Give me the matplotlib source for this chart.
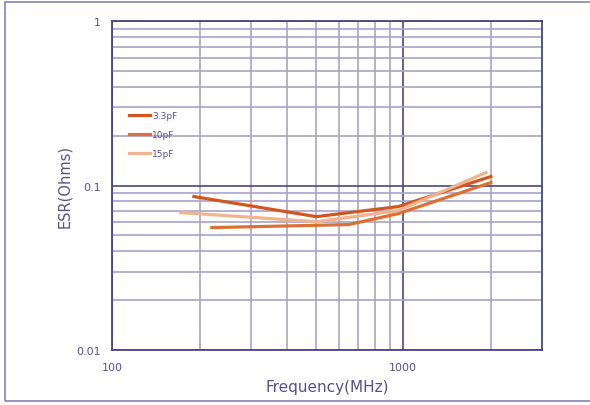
import matplotlib
matplotlib.use('Agg')
import matplotlib.pyplot as plt
from matplotlib.patches import Rectangle
from matplotlib.ticker import FixedLocator, NullFormatter

# data
labels = ['3.3pF', '10pF', '15pF']
freq_33 = [191, 503, 961, 2000]
esr_33 = [0.0857, 0.0647, 0.0745, 0.1135]
freq_10 = [220, 649, 961, 2000]
esr_10 = [0.0555, 0.0579, 0.0675, 0.1043]
freq_15 = [172, 503, 961, 1923]
esr_15 = [0.0685, 0.0603, 0.0704, 0.120]
colors = ['#d2571e', '#dc7034', '#f0b48e']

txt = '#5a4f8e'
grid_minor = '#a8a4c8'
grid_major = '#4a4682'

fig = plt.figure(figsize=(5.9, 4.06), dpi=100)
ax = fig.add_axes([0.19, 0.1355, 0.729, 0.81])

ax.plot(freq_33, esr_33, color=colors[0], lw=2.3, label=labels[0])
ax.plot(freq_10, esr_10, color=colors[1], lw=2.3, label=labels[1])
ax.plot(freq_15, esr_15, color=colors[2], lw=2.3, label=labels[2])

ax.set_xscale('log')
ax.set_yscale('log')
ax.set_xlim(100, 3000)
ax.set_ylim(0.01, 1)

ax.xaxis.set_major_locator(FixedLocator([100, 1000]))
ax.xaxis.set_minor_locator(FixedLocator([200, 300, 400, 500, 600, 700, 800, 900, 2000]))
ax.yaxis.set_major_locator(FixedLocator([0.01, 0.1, 1]))
ax.yaxis.set_minor_locator(FixedLocator([k * 0.01 for k in range(2, 10)] + [k * 0.1 for k in range(2, 10)]))
ax.xaxis.set_minor_formatter(NullFormatter())
ax.yaxis.set_minor_formatter(NullFormatter())
ax.set_xticklabels(['100', '1000'])
ax.set_yticklabels(['0.01', '0.1', '1'])

ax.grid(which='minor', color=grid_minor, lw=1.2)
ax.grid(which='major', color=grid_major, lw=1.2)
ax.set_axisbelow(True)

ax.tick_params(which='both', length=0, colors=txt, labelsize=8)
ax.tick_params(axis='x', pad=9)
ax.tick_params(axis='y', pad=8)
for s in ax.spines.values():
    s.set_color(grid_major)
    s.set_linewidth(1.3)

ax.set_xlabel('Frequency(MHz)', color=txt, fontsize=11, labelpad=5)
ax.set_ylabel('ESR(Ohms)', color=txt, fontsize=10.5, labelpad=3)

leg = ax.legend(loc='upper left', bbox_to_anchor=(0.02, 0.75), frameon=False,
                fontsize=6.5, handlelength=2.3, handletextpad=0.3, labelspacing=1.1)
for t in leg.get_texts():
    t.set_color(txt)

fig.patches.append(Rectangle((0.008, 0.01), 0.995, 0.983, transform=fig.transFigure,
                             fill=False, edgecolor='#8a82b8', lw=1.2))

plt.savefig('out.png', dpi=100)
